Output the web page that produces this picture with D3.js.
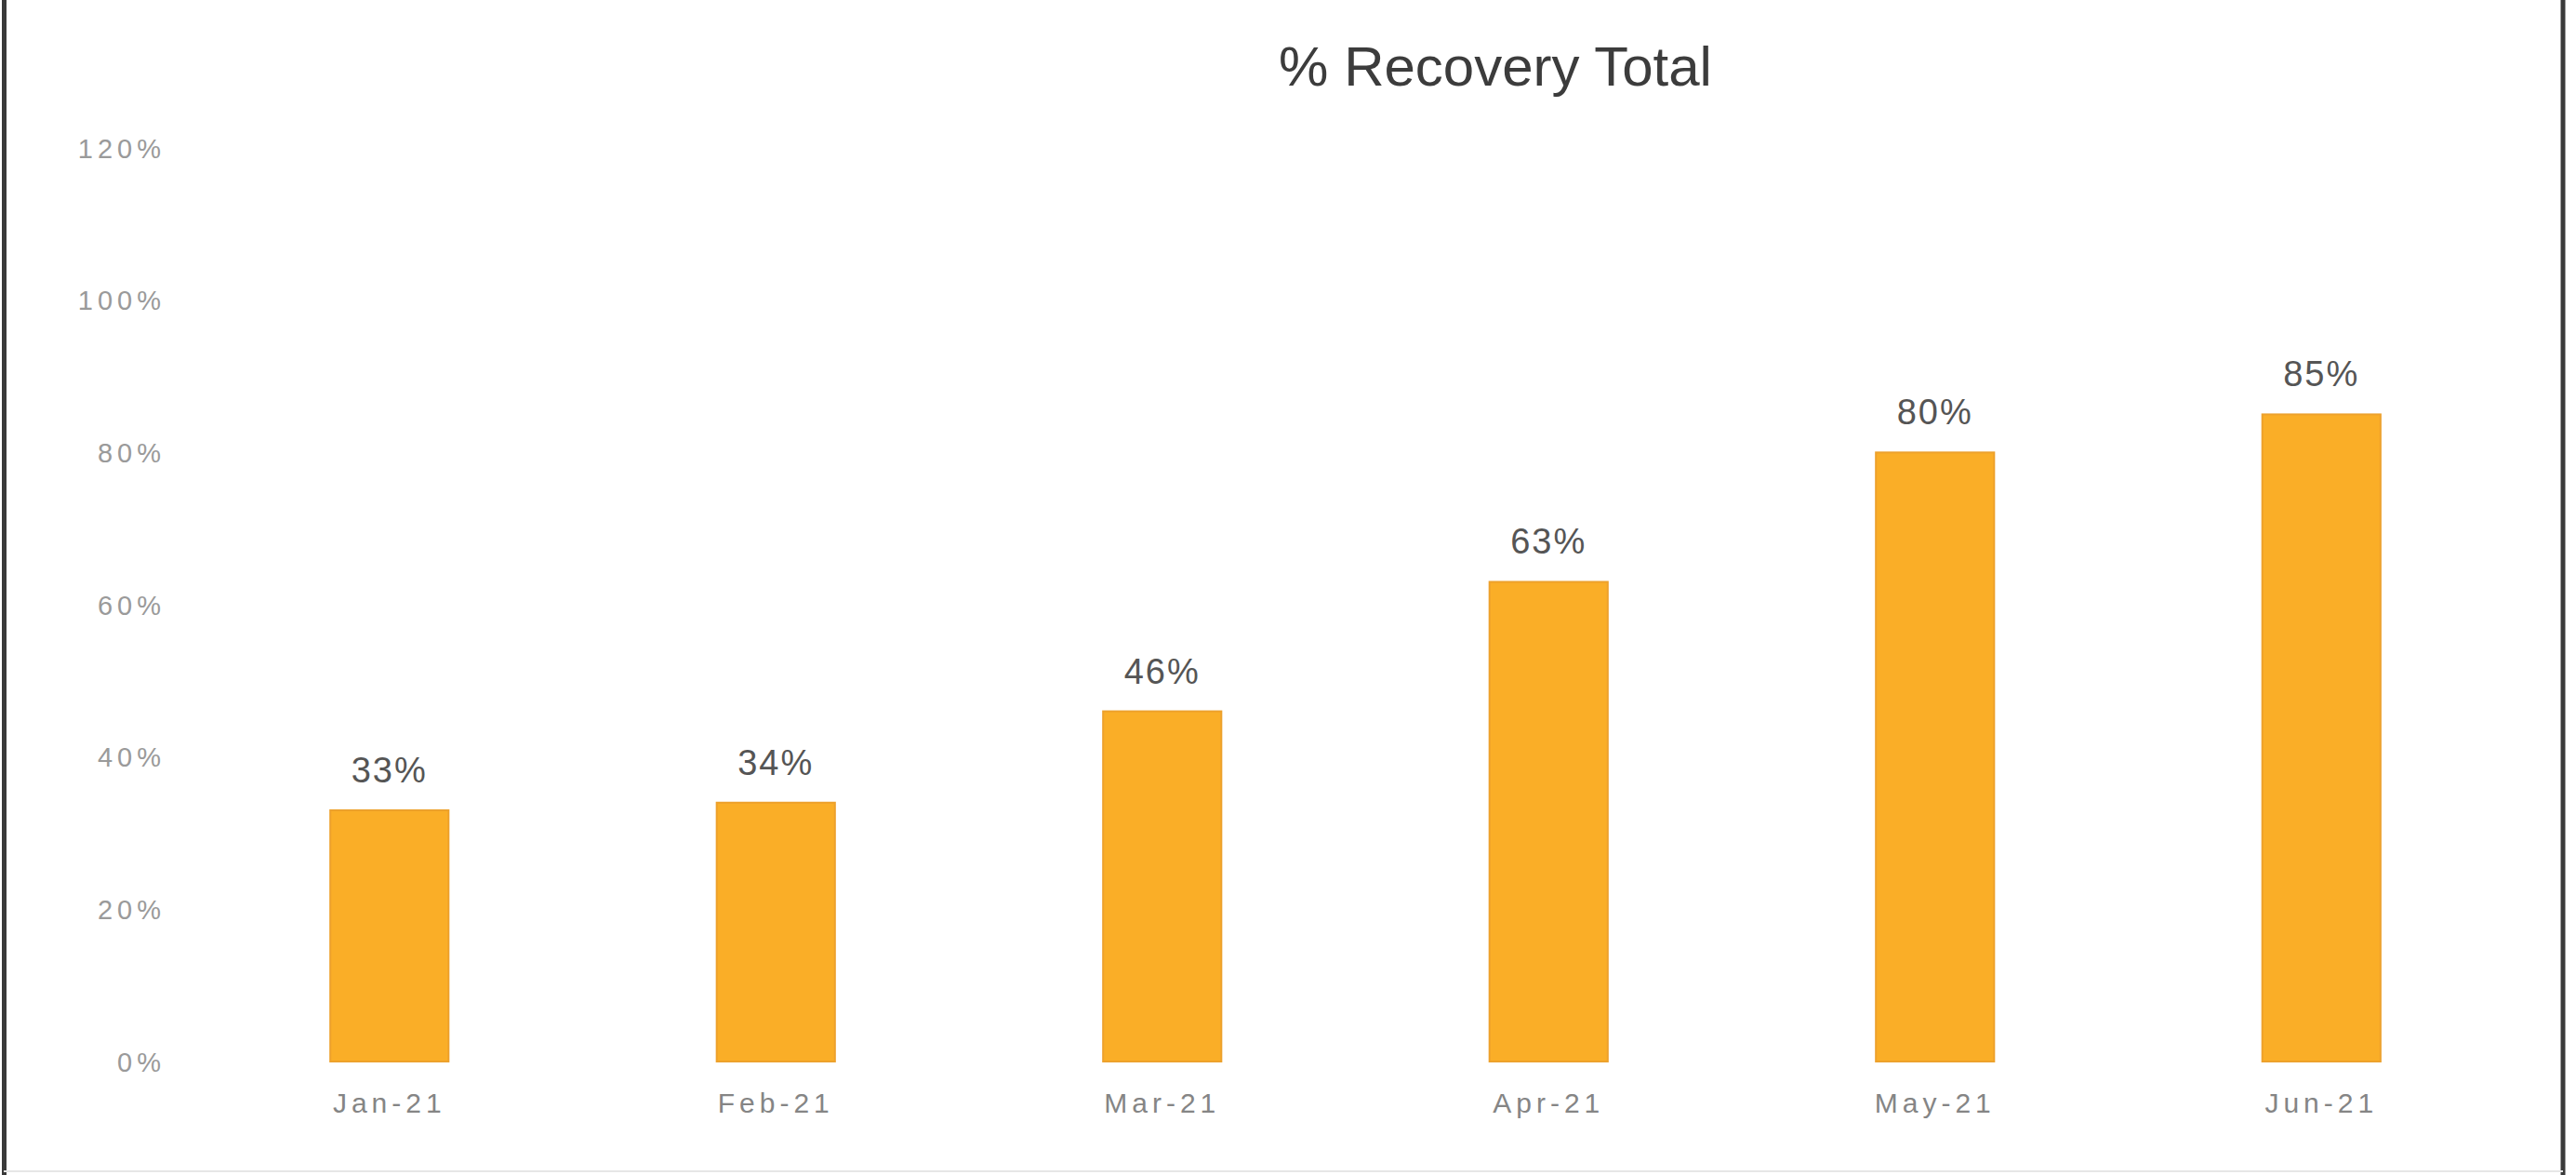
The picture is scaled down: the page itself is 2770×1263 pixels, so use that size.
<!DOCTYPE html>
<html>
<head>
<meta charset="utf-8">
<script src="https://d3js.org/d3.v7.min.js"></script>
<style>
    body { margin: 0; background: #ffffff; }
    text { font-family: "Liberation Sans", Arial, sans-serif; }
    .y-axis text { font-size: 29px; fill: #9a9a9a; letter-spacing: 5px; }
    .x-axis text { font-size: 30px; fill: #858585; letter-spacing: 5px; }
    text.bar-label { font-size: 38px; fill: #555555; letter-spacing: 2px; }
    text.chart-title { font-size: 60px; fill: #3c3c3c; }
</style>
</head>
<body>
<div id="container"></div>
<script>
    // data
    const months = ["Jan-21", "Feb-21", "Mar-21", "Apr-21", "May-21", "Jun-21"];
    const recovery = [33, 34, 46, 63, 80, 85];
    const yTicks = [0, 20, 40, 60, 80, 100, 120];

    const W = 2770, H = 1263;

    const svg = d3.select("#container")
        .append("svg")
        .attr("width", W)
        .attr("height", H);

    // frame
    svg.append("line").attr("x1", 4.5).attr("x2", 4.5).attr("y1", 0).attr("y2", H)
        .attr("stroke", "#3a3a3a").attr("stroke-width", 5);
    svg.append("line").attr("x1", 2756).attr("x2", 2756).attr("y1", 0).attr("y2", H)
        .attr("stroke", "#3a3a3a").attr("stroke-width", 5);
    svg.append("line").attr("x1", 4).attr("x2", 2756).attr("y1", 1259).attr("y2", 1259)
        .attr("stroke", "#e6e6e6").attr("stroke-width", 2);

    // scales
    const x = d3.scaleBand()
        .domain(months)
        .range([211, 2704])
        .paddingInner(0.694)
        .paddingOuter(0.347);

    const y = d3.scaleLinear()
        .domain([0, 120])
        .range([1141, 159]);

    // title
    svg.append("text")
        .attr("class", "chart-title")
        .attr("x", 1608)
        .attr("y", 92)
        .attr("text-anchor", "middle")
        .text("% Recovery Total");

    // y axis (labels only)
    const yAxis = svg.append("g")
        .attr("class", "y-axis")
        .attr("transform", "translate(178,0)")
        .call(d3.axisLeft(y).tickValues(yTicks).tickSize(0).tickPadding(0)
            .tickFormat(d => d + "%"));
    yAxis.select(".domain").remove();
    yAxis.selectAll("text").attr("dy", "0.35em");

    // bars
    svg.selectAll(".bar")
        .data(recovery)
        .enter()
        .append("rect")
        .attr("class", "bar")
        .attr("x", (d, i) => x(months[i]))
        .attr("y", d => y(d))
        .attr("width", x.bandwidth())
        .attr("height", d => y(0) - y(d))
        .attr("fill", "#faae27")
        .attr("stroke", "#eda12c")
        .attr("stroke-width", 2);

    // value labels
    svg.selectAll(".bar-label")
        .data(recovery)
        .enter()
        .append("text")
        .attr("class", "bar-label")
        .attr("x", (d, i) => x(months[i]) + x.bandwidth() / 2)
        .attr("y", d => y(d) - 30)
        .attr("text-anchor", "middle")
        .text(d => d + "%");

    // x axis (labels only)
    const xAxis = svg.append("g")
        .attr("class", "x-axis")
        .attr("transform", "translate(0," + y(0) + ")")
        .call(d3.axisBottom(x).tickSize(0).tickPadding(34));
    xAxis.select(".domain").remove();
</script>
</body>
</html>
